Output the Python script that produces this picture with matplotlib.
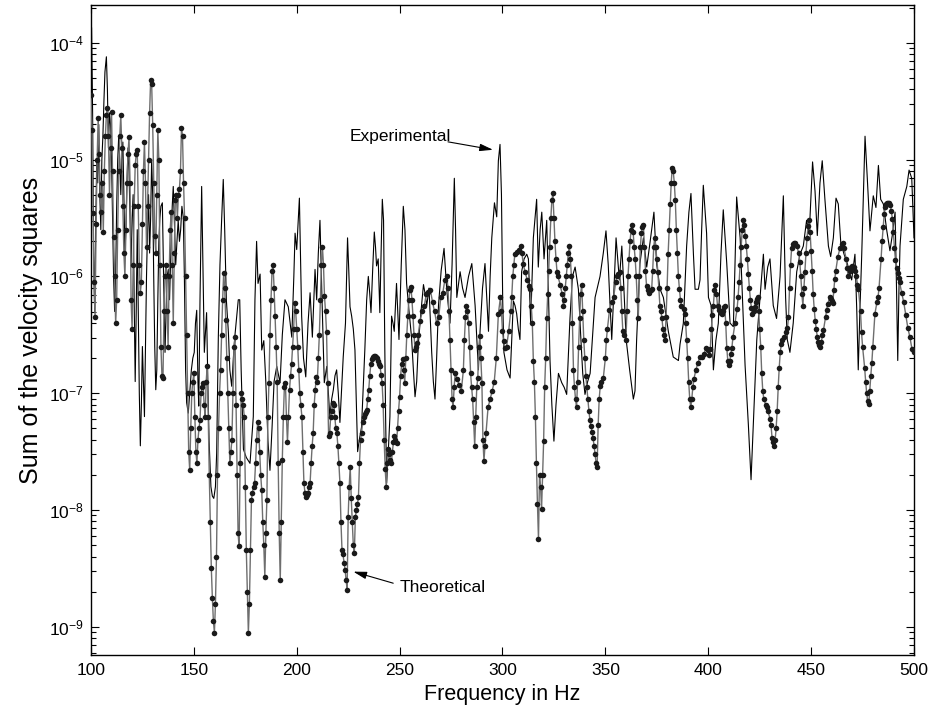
import numpy as np
import matplotlib
matplotlib.use("Agg")
import matplotlib.pyplot as plt
from matplotlib.ticker import FixedLocator, NullFormatter, LogFormatterSciNotation

plt.rcParams["font.family"] = ["Liberation Sans", "DejaVu Sans"]
plt.rcParams["mathtext.fontset"] = "custom"
plt.rcParams["mathtext.rm"] = "Liberation Sans"
plt.rcParams["mathtext.it"] = "Liberation Sans:italic"

# Theoretical response: frequency (Hz) and log10 of the sum of velocity squares
theo_freq = [
    100.0, 100.5, 101.0, 101.5, 102.0, 102.5, 103.0, 103.5, 104.0, 104.5, 105.0, 105.5, 106.0, 106.5,
    107.0, 107.5, 108.0, 108.5, 109.0, 109.5, 110.0, 110.5, 111.0, 111.5, 112.0, 112.5, 113.0, 113.5,
    114.0, 114.5, 115.0, 115.5, 116.0, 116.5, 117.0, 117.5, 118.0, 118.5, 119.0, 119.5, 120.0, 120.5,
    121.0, 121.5, 122.0, 122.5, 123.0, 123.5, 124.0, 124.5, 125.0, 125.5, 126.0, 126.5, 127.0, 127.5,
    128.0, 128.5, 129.0, 129.5, 130.0, 130.5, 131.0, 131.5, 132.0, 132.5, 133.0, 133.5, 134.0, 134.5,
    135.0, 135.5, 136.0, 136.5, 137.0, 137.5, 138.0, 138.5, 139.0, 139.5, 140.0, 140.5, 141.0, 141.5,
    142.0, 142.5, 143.0, 143.5, 144.0, 144.5, 145.0, 145.5, 146.0, 146.5, 147.0, 147.5, 148.0, 148.5,
    149.0, 149.5, 150.0, 150.5, 151.0, 151.5, 152.0, 152.5, 153.0, 153.5, 154.0, 154.5, 155.0, 155.5,
    156.0, 156.5, 157.0, 157.5, 158.0, 158.5, 159.0, 159.5, 160.0, 160.5, 161.0, 161.5, 162.0, 162.5,
    163.0, 163.5, 164.0, 164.5, 165.0, 165.5, 166.0, 166.5, 167.0, 167.5, 168.0, 168.5, 169.0, 169.5,
    170.0, 170.5, 171.0, 171.5, 172.0, 172.5, 173.0, 173.5, 174.0, 174.5, 175.0, 175.5, 176.0, 176.5,
    177.0, 177.5, 178.0, 178.5, 179.0, 179.5, 180.0, 180.5, 181.0, 181.5, 182.0, 182.5, 183.0, 183.5,
    184.0, 184.5, 185.0, 185.5, 186.0, 186.5, 187.0, 187.5, 188.0, 188.5, 189.0, 189.5, 190.0, 190.5,
    191.0, 191.5, 192.0, 192.5, 193.0, 193.5, 194.0, 194.5, 195.0, 195.5, 196.0, 196.5, 197.0, 197.5,
    198.0, 198.5, 199.0, 199.5, 200.0, 200.5, 201.0, 201.5, 202.0, 202.5, 203.0, 203.5, 204.0, 204.5,
    205.0, 205.5, 206.0, 206.5, 207.0, 207.5, 208.0, 208.5, 209.0, 209.5, 210.0, 210.5, 211.0, 211.5,
    212.0, 212.5, 213.0, 213.5, 214.0, 214.5, 215.0, 215.5, 216.0, 216.5, 217.0, 217.5, 218.0, 218.5,
    219.0, 219.5, 220.0, 220.5, 221.0, 221.5, 222.0, 222.5, 223.0, 223.5, 224.0, 224.5, 225.0, 225.5,
    226.0, 226.5, 227.0, 227.5, 228.0, 228.5, 229.0, 229.5, 230.0, 230.5, 231.0, 231.5, 232.0, 232.5,
    233.0, 233.5, 234.0, 234.5, 235.0, 235.5, 236.0, 236.5, 237.0, 237.5, 238.0, 238.5, 239.0, 239.5,
    240.0, 240.5, 241.0, 241.5, 242.0, 242.5, 243.0, 243.5, 244.0, 244.5, 245.0, 245.5, 246.0, 246.5,
    247.0, 247.5, 248.0, 248.5, 249.0, 249.5, 250.0, 250.5, 251.0, 251.5, 252.0, 252.5, 253.0, 253.5,
    254.0, 254.5, 255.0, 255.5, 256.0, 256.5, 257.0, 257.5, 258.0, 258.5, 259.0, 260.0, 261.0, 262.0,
    263.0, 264.0, 265.0, 266.0, 267.0, 268.0, 269.0, 270.0, 271.0, 272.0, 273.0, 273.5, 274.0, 274.5,
    275.0, 275.5, 276.0, 276.5, 277.0, 278.0, 279.0, 280.0, 281.0, 281.5, 282.0, 282.5, 283.0, 283.5,
    284.0, 284.5, 285.0, 285.5, 286.0, 286.5, 287.0, 287.5, 288.0, 288.5, 289.0, 289.5, 290.0, 290.5,
    291.0, 291.5, 292.0, 293.0, 294.0, 295.0, 296.0, 297.0, 298.0, 299.0, 299.5, 300.0, 300.5, 301.0,
    302.0, 303.0, 304.0, 304.5, 305.0, 305.5, 306.0, 307.0, 308.0, 308.8, 309.5, 310.0, 311.0, 312.0,
    313.0, 313.5, 314.0, 314.5, 315.0, 315.5, 316.0, 316.5, 317.0, 317.5, 318.0, 318.5, 319.0, 319.5,
    320.0, 320.5, 321.0, 321.5, 322.0, 322.5, 323.0, 323.5, 324.0, 324.5, 325.0, 325.5, 326.0, 326.5,
    327.0, 328.0, 329.0, 329.6, 330.0, 330.5, 331.0, 331.5, 332.0, 332.5, 333.0, 333.5, 334.0, 334.5,
    335.0, 335.5, 336.0, 336.5, 337.0, 337.5, 338.0, 338.5, 339.0, 339.5, 340.0, 340.5, 341.0, 341.5,
    342.0, 342.5, 343.0, 343.5, 344.0, 344.5, 345.0, 345.5, 346.0, 346.5, 347.0, 347.5, 348.0, 349.0,
    350.0, 350.5, 351.0, 352.0, 353.0, 354.0, 355.0, 355.5, 356.0, 357.0, 357.5, 358.0, 358.5, 359.0,
    360.0, 360.5, 361.0, 361.5, 362.0, 362.5, 363.0, 363.5, 364.0, 364.5, 365.0, 365.5, 366.0, 366.5,
    367.0, 367.5, 368.0, 368.5, 369.0, 369.5, 370.0, 370.5, 371.0, 372.0, 372.5, 373.0, 373.5, 374.0,
    374.5, 375.0, 375.5, 376.0, 376.5, 377.0, 377.5, 378.0, 378.5, 379.0, 379.5, 380.0, 380.5, 381.0,
    381.5, 382.0, 382.5, 383.0, 383.5, 384.0, 384.5, 385.0, 385.5, 386.0, 386.5, 387.0, 388.0, 388.5,
    389.0, 389.5, 390.0, 390.5, 391.0, 391.5, 392.0, 392.5, 393.0, 394.0, 395.0, 396.0, 397.0, 398.0,
    399.0, 400.0, 400.5, 401.0, 401.5, 402.0, 402.5, 403.0, 403.5, 404.0, 404.5, 405.0, 406.0, 406.5,
    407.0, 407.5, 408.0, 408.5, 409.0, 409.5, 410.0, 410.5, 411.0, 411.5, 412.0, 413.0, 414.0, 414.5,
    415.0, 415.5, 416.0, 416.5, 417.0, 417.5, 418.0, 418.5, 419.0, 419.5, 420.0, 420.5, 421.0, 421.5,
    422.0, 422.5, 423.0, 423.5, 424.0, 424.5, 425.0, 425.5, 426.0, 426.5, 427.0, 428.0, 428.5, 429.0,
    430.0, 430.5, 431.0, 431.5, 432.0, 432.5, 433.0, 433.5, 434.0, 434.5, 435.0, 435.5, 436.0, 437.0,
    438.0, 438.5, 439.0, 439.5, 440.0, 440.5, 441.0, 441.5, 442.0, 443.0, 444.0, 444.5, 445.0, 445.5,
    446.0, 446.5, 447.0, 447.5, 448.0, 448.5, 449.0, 449.5, 450.0, 450.5, 451.0, 451.5, 452.0, 452.5,
    453.0, 453.5, 454.0, 454.5, 455.0, 455.5, 456.0, 457.0, 457.5, 458.0, 459.0, 459.5, 460.0, 460.5,
    461.0, 461.5, 462.0, 463.0, 464.0, 465.0, 465.5, 466.0, 467.0, 467.5, 468.0, 469.0, 469.5, 470.0,
    471.0, 471.5, 472.0, 472.5, 473.0, 474.0, 474.5, 475.0, 476.0, 476.5, 477.0, 477.5, 478.0, 478.5,
    479.0, 479.5, 480.0, 481.0, 482.0, 482.5, 483.0, 484.0, 484.5, 485.0, 485.5, 486.0, 486.5, 487.0,
    487.5, 488.0, 488.5, 489.0, 489.5, 490.0, 490.5, 491.0, 491.5, 492.0, 492.5, 493.0, 494.0, 495.0,
    496.0, 497.0, 498.0, 499.0, 500.0,
]
theo_log = [
    -4.45, -4.75, -5.46, -6.05, -6.35, -5.55, -5.00, -4.64, -4.95, -5.30, -5.45, -5.20, -5.62, -5.10,
    -4.80, -4.62, -4.56, -4.80, -5.30, -4.90, -4.59, -5.10, -5.66, -6.00, -6.40, -6.20, -5.60, -5.10,
    -4.80, -4.62, -4.90, -5.40, -5.80, -6.00, -5.60, -5.20, -4.95, -4.81, -5.20, -6.20, -6.45, -5.90,
    -5.40, -5.05, -4.95, -4.92, -5.40, -5.90, -6.14, -6.05, -5.55, -5.10, -4.85, -5.20, -5.75, -5.40,
    -5.00, -4.60, -4.32, -4.35, -4.70, -5.20, -5.65, -5.80, -5.30, -4.75, -5.00, -5.90, -6.60, -6.85,
    -6.87, -6.30, -6.00, -5.90, -6.30, -6.60, -6.00, -5.60, -5.45, -5.90, -6.40, -5.80, -5.35, -5.30,
    -5.50, -5.30, -5.25, -5.10, -4.73, -4.80, -5.20, -5.50, -6.00, -6.50, -7.00, -7.50, -7.66, -7.30,
    -7.00, -6.90, -6.83, -7.20, -7.50, -7.60, -7.40, -7.30, -7.23, -7.00, -6.95, -6.91, -7.10, -7.20,
    -6.90, -6.77, -7.20, -7.70, -8.10, -8.50, -8.75, -8.95, -9.05, -8.80, -8.40, -7.70, -7.30, -7.00,
    -6.80, -6.50, -6.20, -5.97, -6.10, -6.37, -6.70, -7.00, -7.30, -7.60, -7.50, -7.40, -7.00, -6.60,
    -6.52, -7.10, -7.70, -8.20, -8.31, -7.60, -7.00, -7.05, -7.10, -7.20, -7.80, -8.34, -8.70, -9.05,
    -8.80, -8.34, -7.91, -7.85, -7.80, -7.77, -7.60, -7.40, -7.25, -7.30, -7.50, -7.70, -7.83, -8.10,
    -8.30, -8.57, -8.20, -7.91, -7.20, -6.91, -6.50, -6.20, -5.95, -5.90, -6.10, -6.34, -6.60, -6.90,
    -7.60, -8.20, -8.60, -8.10, -7.57, -7.20, -6.95, -6.91, -7.20, -7.42, -7.20, -6.97, -6.85, -6.75,
    -6.60, -6.45, -6.23, -6.30, -6.45, -6.60, -6.80, -7.00, -7.10, -7.20, -7.50, -7.77, -7.85, -7.89,
    -7.87, -7.85, -7.80, -7.77, -7.60, -7.45, -7.34, -7.10, -6.97, -6.86, -6.90, -6.70, -6.50, -6.20,
    -5.90, -5.75, -5.90, -6.17, -6.30, -6.48, -6.91, -7.37, -7.34, -7.20, -7.15, -7.08, -7.10, -7.20,
    -7.30, -7.34, -7.45, -7.60, -7.77, -8.10, -8.34, -8.38, -8.45, -8.51, -8.60, -8.68, -8.06, -7.80,
    -7.63, -7.90, -8.10, -8.30, -8.37, -8.06, -8.00, -7.95, -7.89, -7.60, -7.40, -7.34, -7.25, -7.20,
    -7.18, -7.16, -7.14, -7.05, -6.97, -6.85, -6.75, -6.71, -6.69, -6.68, -6.68, -6.69, -6.70, -6.72,
    -6.75, -6.77, -6.84, -6.91, -7.10, -7.40, -7.65, -7.80, -7.60, -7.48, -7.52, -7.57, -7.60, -7.50,
    -7.42, -7.37, -7.40, -7.43, -7.30, -7.15, -7.03, -6.85, -6.75, -6.71, -6.80, -6.91, -6.70, -6.50,
    -6.34, -6.20, -6.12, -6.09, -6.20, -6.34, -6.50, -6.63, -6.60, -6.57, -6.50, -6.38, -6.30, -6.25,
    -6.15, -6.13, -6.12, -6.22, -6.30, -6.40, -6.35, -6.18, -6.14, -6.03, -6.00, -6.10, -6.30, -6.54,
    -6.80, -7.05, -7.12, -6.95, -6.83, -6.88, -6.93, -6.98, -6.80, -6.54, -6.35, -6.25, -6.30, -6.40,
    -6.60, -6.83, -6.95, -7.05, -7.25, -7.45, -7.20, -6.95, -6.87, -6.60, -6.51, -6.70, -6.91, -7.40,
    -7.58, -7.45, -7.34, -7.12, -7.05, -6.98, -6.90, -6.70, -6.32, -6.18, -6.30, -6.47, -6.55, -6.61,
    -6.60, -6.47, -6.30, -6.18, -6.00, -5.90, -5.81, -5.79, -5.77, -5.74, -5.80, -5.89, -5.96, -6.03,
    -6.08, -6.11, -6.25, -6.40, -6.72, -6.90, -7.20, -7.60, -7.95, -8.25, -7.70, -7.80, -7.99, -7.70,
    -7.41, -6.95, -6.70, -6.36, -6.15, -5.95, -5.75, -5.50, -5.35, -5.29, -5.50, -5.70, -5.85, -5.96,
    -6.00, -6.07, -6.15, -6.25, -6.20, -6.10, -6.00, -5.90, -5.80, -5.74, -5.85, -6.00, -6.40, -6.80,
    -6.95, -7.05, -7.12, -6.90, -6.60, -6.36, -6.15, -6.07, -6.30, -6.54, -6.70, -6.85, -6.95, -7.05,
    -7.15, -7.23, -7.28, -7.33, -7.38, -7.45, -7.52, -7.60, -7.63, -7.27, -7.05, -6.94, -6.90, -6.87,
    -6.70, -6.54, -6.45, -6.29, -6.22, -6.18, -6.05, -6.00, -5.98, -5.96, -6.10, -6.30, -6.47, -6.50,
    -6.54, -6.30, -6.00, -5.85, -5.70, -5.60, -5.56, -5.62, -5.75, -5.85, -6.00, -6.20, -6.36, -6.00,
    -5.75, -5.63, -5.58, -5.56, -5.75, -5.95, -6.08, -6.12, -6.14, -6.12, -6.11, -5.95, -5.75, -5.67,
    -5.75, -5.85, -5.96, -6.10, -6.25, -6.30, -6.36, -6.45, -6.50, -6.54, -6.35, -6.10, -5.81, -5.60,
    -5.38, -5.20, -5.07, -5.10, -5.20, -5.35, -5.60, -5.80, -6.00, -6.11, -6.20, -6.25, -6.28, -6.32,
    -6.40, -6.54, -6.70, -6.90, -7.05, -7.12, -7.05, -6.95, -6.88, -6.80, -6.74, -6.69, -6.69, -6.66,
    -6.61, -6.63, -6.67, -6.62, -6.45, -6.33, -6.25, -6.12, -6.07, -6.15, -6.25, -6.29, -6.31, -6.32,
    -6.30, -6.26, -6.25, -6.40, -6.61, -6.72, -6.76, -6.72, -6.66, -6.61, -6.52, -6.40, -6.28, -6.18,
    -6.05, -5.90, -5.75, -5.60, -5.52, -5.56, -5.65, -5.74, -5.85, -5.98, -6.10, -6.20, -6.27, -6.32,
    -6.30, -6.26, -6.22, -6.19, -6.18, -6.30, -6.45, -6.60, -6.83, -6.98, -7.05, -7.10, -7.12, -7.15,
    -7.22, -7.27, -7.38, -7.42, -7.45, -7.40, -7.30, -7.15, -6.95, -6.78, -6.65, -6.58, -6.54, -6.52,
    -6.48, -6.44, -6.35, -6.10, -5.90, -5.76, -5.72, -5.71, -5.71, -5.74, -5.80, -5.88, -6.00, -6.15,
    -6.25, -6.10, -5.96, -5.80, -5.67, -5.57, -5.52, -5.62, -5.78, -5.95, -6.15, -6.28, -6.38, -6.45,
    -6.52, -6.56, -6.59, -6.60, -6.56, -6.50, -6.46, -6.35, -6.29, -6.24, -6.18, -6.19, -6.21, -6.23,
    -6.12, -6.02, -5.95, -5.83, -5.76, -5.72, -5.71, -5.76, -5.85, -5.93, -6.00, -5.95, -5.92, -5.91,
    -5.92, -5.95, -6.00, -6.07, -6.11, -6.30, -6.48, -6.60, -6.78, -6.90, -7.00, -7.07, -7.09, -6.98,
    -6.85, -6.74, -6.60, -6.32, -6.22, -6.18, -6.10, -5.85, -5.70, -5.58, -5.47, -5.41, -5.38, -5.37,
    -5.37, -5.37, -5.39, -5.44, -5.51, -5.62, -5.76, -5.86, -5.93, -5.97, -6.01, -6.05, -6.14, -6.22,
    -6.33, -6.44, -6.52, -6.62, -6.65,
]

# Measured response: frequency (Hz) and log10 of the sum of velocity squares
exp_freq = [
    100.0, 100.3, 100.8, 101.3, 101.8, 102.3, 102.8, 103.3, 103.8, 104.3, 104.8, 105.3, 105.8, 106.3,
    106.8, 107.5, 108.0, 108.5, 109.0, 109.5, 110.0, 110.5, 111.0, 111.5, 112.0, 112.5, 113.0, 113.5,
    114.0, 114.5, 115.0, 115.5, 116.0, 116.5, 117.0, 117.5, 118.0, 118.5, 119.0, 119.5, 120.0, 120.5,
    121.0, 121.5, 122.0, 122.5, 123.0, 123.5, 124.0, 124.5, 125.0, 125.5, 126.0, 126.5, 127.0, 127.5,
    128.0, 128.5, 129.0, 129.5, 130.0, 130.5, 131.0, 131.5, 132.0, 132.5, 133.0, 133.5, 134.0, 134.7,
    135.3, 136.0, 136.5, 137.0, 137.6, 138.2, 138.8, 139.5, 140.0, 140.5, 141.2, 141.8, 142.4, 143.0,
    143.6, 144.2, 144.9, 145.4, 146.0, 146.5, 147.3, 148.0, 148.8, 149.5, 150.2, 150.8, 151.4, 152.0,
    152.4, 153.0, 153.8, 154.4, 155.1, 155.6, 156.2, 156.8, 157.4, 158.3, 159.0, 159.7, 160.5, 161.1,
    161.9, 162.7, 163.5, 164.3, 165.0, 165.8, 166.8, 167.5, 168.4, 169.2, 170.0, 170.8, 171.6, 172.3,
    173.0, 174.1, 175.5, 177.3, 178.9, 179.7, 180.5, 181.2, 182.2, 183.0, 184.0, 185.0, 186.0, 187.0,
    188.0, 189.0, 190.3, 191.9, 193.0, 194.3, 195.9, 197.6, 198.6, 199.2, 200.0, 201.3, 202.4, 203.3,
    204.4, 205.5, 206.5, 207.6, 208.9, 209.7, 210.5, 211.3, 212.3, 213.4, 214.6, 215.4, 216.1, 217.0,
    217.8, 218.6, 219.4, 220.2, 221.0, 222.0, 222.6, 223.7, 224.7, 225.3, 225.9, 226.7, 227.5, 228.3,
    229.0, 229.6, 230.4, 231.5, 232.3, 233.1, 234.0, 234.8, 235.5, 236.1, 236.9, 237.7, 238.3, 238.8,
    239.6, 240.4, 241.0, 241.6, 242.2, 242.8, 243.2, 243.7, 244.5, 245.3, 246.1, 246.8, 247.4, 248.5,
    249.7, 250.8, 251.8, 252.6, 253.4, 254.6, 255.8, 256.7, 257.5, 258.3, 259.1, 260.4, 261.6, 262.4,
    263.2, 264.3, 265.6, 266.4, 267.2, 268.0, 268.9, 270.2, 271.6, 272.9, 274.5, 275.5, 276.6, 277.2,
    277.8, 279.4, 280.6, 281.8, 283.5, 285.1, 286.7, 288.3, 289.1, 290.3, 291.5, 292.4, 293.2, 294.0,
    294.8, 296.1, 297.2, 298.0, 298.8, 299.5, 300.1, 300.7, 302.2, 303.7, 305.3, 306.1, 306.9, 307.7,
    308.5, 309.3, 310.5, 311.8, 312.6, 313.7, 315.0, 316.6, 317.4, 318.3, 319.1, 320.2, 321.5, 322.3,
    323.1, 324.0, 325.0, 326.0, 327.2, 328.8, 330.0, 331.2, 332.8, 334.0, 335.3, 336.9, 338.0, 339.0,
    340.1, 341.4, 342.6, 343.8, 345.0, 347.4, 349.0, 350.3, 351.4, 352.3, 353.1, 354.2, 355.2, 356.8,
    358.0, 359.0, 360.1, 361.8, 363.6, 364.4, 365.2, 366.8, 368.5, 370.1, 371.7, 373.6, 374.9, 376.6,
    378.2, 380.6, 383.0, 385.5, 386.3, 387.9, 389.5, 390.6, 391.6, 392.8, 393.6, 395.2, 396.0, 396.8,
    397.6, 399.2, 400.1, 401.4, 402.5, 403.7, 404.9, 406.2, 407.3, 409.0, 410.6, 412.2, 413.0, 413.8,
    415.5, 416.6, 417.9, 419.5, 420.8, 421.9, 423.6, 425.2, 426.8, 427.6, 428.9, 430.0, 431.6, 433.2,
    434.9, 436.5, 437.6, 438.4, 439.7, 441.3, 443.0, 444.6, 446.2, 447.8, 449.1, 450.7, 451.9, 453.0,
    454.3, 455.4, 456.7, 458.4, 459.5, 460.8, 462.1, 463.2, 464.4, 466.0, 467.6, 468.6, 469.7, 471.3,
    472.2, 472.9, 473.7, 474.6, 476.2, 477.3, 478.6, 480.2, 481.5, 482.7, 483.8, 485.1, 486.7, 488.3,
    489.6, 490.8, 491.5, 492.1, 492.7, 493.2, 494.8, 496.5, 497.6, 498.9, 500.0,
]
exp_log = [
    -4.50, -3.87, -4.60, -5.80, -6.30, -5.60, -5.00, -5.20, -4.70, -5.30, -5.60, -5.00, -4.80, -4.50,
    -4.25, -4.12, -4.40, -4.90, -4.60, -4.70, -5.00, -5.50, -6.00, -6.30, -6.00, -5.40, -5.00, -4.80,
    -5.00, -5.30, -5.00, -4.85, -5.30, -5.80, -5.60, -5.20, -4.90, -5.10, -5.50, -5.90, -5.50, -5.30,
    -6.20, -6.90, -6.30, -5.60, -6.30, -7.00, -7.45, -7.10, -6.60, -6.90, -7.20, -6.60, -6.00, -5.60,
    -5.30, -5.80, -5.50, -5.00, -5.30, -6.00, -6.60, -6.97, -6.80, -6.20, -5.70, -5.50, -5.40, -5.37,
    -6.00, -6.65, -6.30, -6.00, -5.94, -6.20, -5.80, -5.40, -5.23, -5.50, -5.90, -5.70, -5.52, -5.70,
    -5.60, -5.40, -5.50, -6.00, -6.80, -7.08, -7.17, -7.00, -6.80, -6.70, -6.65, -6.40, -6.29, -6.90,
    -7.11, -6.20, -5.23, -5.90, -6.65, -6.50, -6.31, -6.90, -7.40, -7.80, -7.88, -7.90, -7.80, -7.51,
    -6.52, -5.90, -5.52, -5.17, -5.60, -6.20, -6.48, -6.80, -6.94, -6.70, -6.50, -6.35, -6.20, -6.20,
    -6.80, -7.48, -7.55, -7.60, -7.20, -6.20, -5.70, -6.06, -5.98, -6.63, -6.55, -6.91, -7.40, -7.66,
    -7.30, -6.90, -6.77, -6.91, -6.50, -6.20, -6.26, -6.52, -6.00, -5.63, -5.77, -5.33, -6.34, -6.70,
    -6.86, -6.40, -6.14, -6.52, -5.94, -6.20, -5.80, -5.52, -6.20, -6.91, -6.77, -7.00, -7.20, -7.05,
    -6.97, -6.85, -6.80, -7.00, -7.25, -6.90, -6.69, -6.40, -5.67, -5.95, -6.26, -6.34, -6.45, -6.63,
    -7.10, -7.50, -7.40, -7.29, -6.95, -6.63, -6.20, -6.00, -6.15, -6.31, -5.95, -5.62, -5.75, -5.91,
    -5.85, -6.31, -5.80, -5.34, -5.52, -6.60, -7.20, -7.77, -7.50, -7.20, -6.34, -6.40, -6.47, -6.06,
    -6.54, -5.90, -5.40, -5.60, -6.06, -6.30, -6.52, -6.80, -7.03, -6.90, -6.58, -6.30, -6.07, -6.15,
    -6.25, -6.10, -6.65, -6.90, -7.05, -6.70, -6.25, -5.95, -5.76, -6.11, -6.40, -5.90, -5.16, -5.60,
    -6.18, -5.96, -6.10, -6.18, -6.00, -5.89, -6.25, -6.80, -6.47, -6.10, -5.89, -6.20, -6.47, -6.00,
    -5.67, -5.37, -5.49, -5.01, -4.87, -5.30, -6.20, -6.65, -6.80, -6.87, -6.21, -6.25, -6.32, -6.45,
    -6.54, -5.96, -5.85, -5.81, -5.85, -6.40, -5.67, -5.34, -5.92, -5.60, -5.45, -5.85, -5.52, -6.10,
    -6.72, -7.10, -7.41, -7.10, -6.83, -6.91, -6.95, -7.01, -6.36, -6.00, -5.92, -6.11, -6.50, -6.83,
    -7.01, -6.90, -6.83, -6.50, -6.18, -6.00, -5.80, -5.61, -5.90, -6.25, -6.54, -6.10, -5.67, -6.03,
    -5.74, -6.10, -6.54, -6.80, -7.05, -6.98, -6.54, -5.89, -5.67, -5.92, -5.71, -5.45, -5.89, -6.11,
    -6.18, -6.47, -6.69, -6.72, -6.58, -6.40, -5.74, -5.45, -5.29, -5.81, -6.11, -6.11, -6.03, -5.60,
    -5.22, -5.63, -6.18, -6.25, -6.80, -6.55, -6.40, -5.80, -5.43, -5.89, -6.40, -6.43, -5.90, -5.32,
    -5.67, -6.18, -6.76, -7.27, -7.74, -7.27, -6.54, -6.18, -5.81, -6.11, -5.92, -5.85, -6.25, -6.36,
    -6.00, -5.31, -6.18, -6.54, -6.65, -6.40, -5.96, -5.81, -5.74, -5.52, -5.63, -5.02, -5.27, -5.65,
    -5.20, -5.01, -5.34, -5.74, -5.83, -5.67, -5.33, -5.38, -5.71, -5.81, -5.89, -5.96, -6.03, -5.81,
    -6.30, -6.80, -6.30, -5.81, -4.80, -5.16, -5.61, -5.31, -5.41, -5.05, -5.34, -5.38, -5.60, -5.78,
    -5.63, -5.45, -6.10, -6.72, -6.10, -5.74, -5.34, -5.23, -5.09, -5.16, -5.67,
]

# Axis ticks
x_ticks = [100, 150, 200, 250, 300, 350, 400, 450, 500]
y_decades = [-9, -8, -7, -6, -5, -4]

theo_sum = 10.0 ** np.asarray(theo_log)
exp_sum = 10.0 ** np.asarray(exp_log)

fig = plt.figure(figsize=(9.30, 7.11), dpi=100)
ax = fig.add_axes([0.0978, 0.0788, 0.885, 0.914])

ax.plot(exp_freq, exp_sum, color="black", lw=0.8, zorder=2)
ax.plot(theo_freq, theo_sum, color="#6e6e6e", lw=1.0, marker="o", ms=4.0,
        mfc="#1a1a1a", mec="#1a1a1a", mew=0.0, zorder=3)

ax.set_yscale("log")
ax.set_xlim(100, 500)
ymin, ymax = 5.75e-10, 2.1e-4
ax.set_ylim(ymin, ymax)

major_y = [10.0 ** d for d in y_decades]
minor_y = [m * 10.0 ** d for d in range(-10, -3) for m in range(2, 10)
           if ymin <= m * 10.0 ** d <= ymax]
ax.xaxis.set_major_locator(FixedLocator(x_ticks))
ax.yaxis.set_major_locator(FixedLocator(major_y))
ax.yaxis.set_major_formatter(LogFormatterSciNotation())
ax.yaxis.set_minor_locator(FixedLocator(minor_y))
ax.yaxis.set_minor_formatter(NullFormatter())

ax.tick_params(axis="both", which="both", direction="in", top=True, right=True,
               labelsize=12.5, width=0.8, color="black")
ax.tick_params(axis="both", which="major", length=6)
ax.tick_params(axis="y", which="minor", length=3.5)
ax.tick_params(axis="x", which="major", pad=6)
ax.tick_params(axis="y", which="major", pad=5)
for sp in ax.spines.values():
    sp.set_linewidth(1.0)

ax.set_xlabel("Frequency in Hz", fontsize=15.5, labelpad=4)
ax.set_ylabel("Sum of the velocity squares", fontsize=18, labelpad=4)

ax.text(225.9, 10 ** -4.805, "Experimental", fontsize=12.5, ha="left", va="center")
ax.annotate("", xy=(295.4, 10 ** -4.916), xytext=(273.5, 10 ** -4.848),
            arrowprops=dict(arrowstyle="-|>,head_length=0.8,head_width=0.22",
                            lw=0.8, color="black", shrinkA=0, shrinkB=0))
ax.text(250.2, 10 ** -8.666, "Theoretical", fontsize=12.5, ha="left", va="center")
ax.annotate("", xy=(227.5, 10 ** -8.527), xytext=(246.9, 10 ** -8.626),
            arrowprops=dict(arrowstyle="-|>,head_length=0.8,head_width=0.22",
                            lw=0.8, color="black", shrinkA=0, shrinkB=0))

fig.savefig("out.png", dpi=100)
